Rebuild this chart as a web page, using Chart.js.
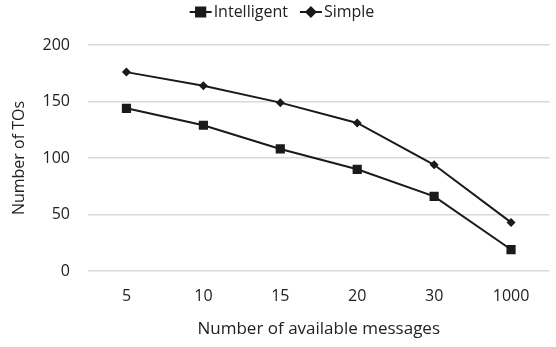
<!DOCTYPE html>
<html>
<head>
<meta charset="utf-8">
<script src="https://cdn.jsdelivr.net/npm/chart.js@4/dist/chart.umd.min.js"></script>
<style>
  html, body { margin: 0; padding: 0; background: #fff; }
  #wrap { width: 556px; height: 347px; }
</style>
</head>
<body>
<div id="wrap"><canvas id="c" width="556" height="347"></canvas></div>
<script>
// Number of available messages (categories)
const categories = ['5', '10', '15', '20', '30', '1000'];
// Number of TOs for each strategy
const intelligent = [144, 129, 108, 90, 66, 19];
const simple = [176, 164, 149, 131, 94, 43];
// Y axis ticks
const yTicks = [0, 50, 100, 150, 200];

const FONT = '"Open Sans", Lato, sans-serif';
const INK = '#1a1a1a';

// Legend drawn as line + marker, the way the series look on the plot
const lineLegend = {
  id: 'lineLegend',
  afterDraw(chart) {
    const ctx = chart.ctx;
    ctx.save();
    ctx.font = '16px ' + FONT;
    ctx.textBaseline = 'middle';
    const y = 12;
    const seg = 22, gap = 2, between = 12;
    const items = chart.data.datasets.map(ds => ({
      text: ds.label, style: ds.pointStyle, radius: ds.pointRadius,
      w: seg + gap + ctx.measureText(ds.label).width
    }));
    const total = items.reduce((s, it) => s + it.w, 0) + between * (items.length - 1);
    let x = (chart.width - total) / 2 + 4;
    items.forEach(it => {
      ctx.strokeStyle = INK; ctx.lineWidth = 2;
      ctx.beginPath(); ctx.moveTo(x, y); ctx.lineTo(x + seg, y); ctx.stroke();
      ctx.fillStyle = INK;
      Chart.helpers.drawPoint(ctx, { pointStyle: it.style, radius: it.radius, borderWidth: 1 }, x + seg / 2, y);
      ctx.fill();
      ctx.fillStyle = '#222';
      ctx.textAlign = 'left';
      ctx.fillText(it.text, x + seg + gap, y);
      x += it.w + between;
    });
    ctx.restore();
  }
};

new Chart(document.getElementById('c'), {
  type: 'line',
  data: {
    labels: categories,
    datasets: [
      {
        label: 'Intelligent', data: intelligent,
        borderColor: INK, backgroundColor: INK, borderWidth: 2,
        pointStyle: 'rect', pointRadius: 6.5, pointBorderWidth: 0,
        tension: 0
      },
      {
        label: 'Simple', data: simple,
        borderColor: INK, backgroundColor: INK, borderWidth: 2,
        pointStyle: 'rectRot', pointRadius: 4.5, pointBorderWidth: 0,
        tension: 0
      }
    ]
  },
  options: {
    responsive: false,
    animation: false,
    layout: { padding: { top: 45, right: 6, bottom: 8, left: 0 } },
    plugins: { legend: { display: false }, tooltip: { enabled: false } },
    scales: {
      x: {
        offset: true,
        grid: { display: false, drawTicks: false, offset: true },
        border: { display: false },
        ticks: { color: '#222', font: { family: FONT, size: 16 }, padding: 16 },
        title: { display: true, text: 'Number of available messages', color: '#222',
                 font: { family: FONT, size: 17 }, padding: { top: 10, bottom: 0 } },
        afterFit(s) { s.height = 68; }
      },
      y: {
        min: 0, max: 200,
        afterBuildTicks(s) { s.ticks = yTicks.map(v => ({ value: v })); },
        grid: { color: '#d9d9d9', lineWidth: 1.5, drawTicks: false },
        border: { display: false },
        ticks: { color: '#222', font: { family: FONT, size: 16 }, padding: 18 },
        title: { display: true, text: 'Number of TOs', color: '#222',
                 font: { family: FONT, size: 16 }, padding: { top: 10, bottom: 0 } },
        afterFit(s) { s.width = 88; }
      }
    }
  },
  plugins: [lineLegend]
});
</script>
</body>
</html>
